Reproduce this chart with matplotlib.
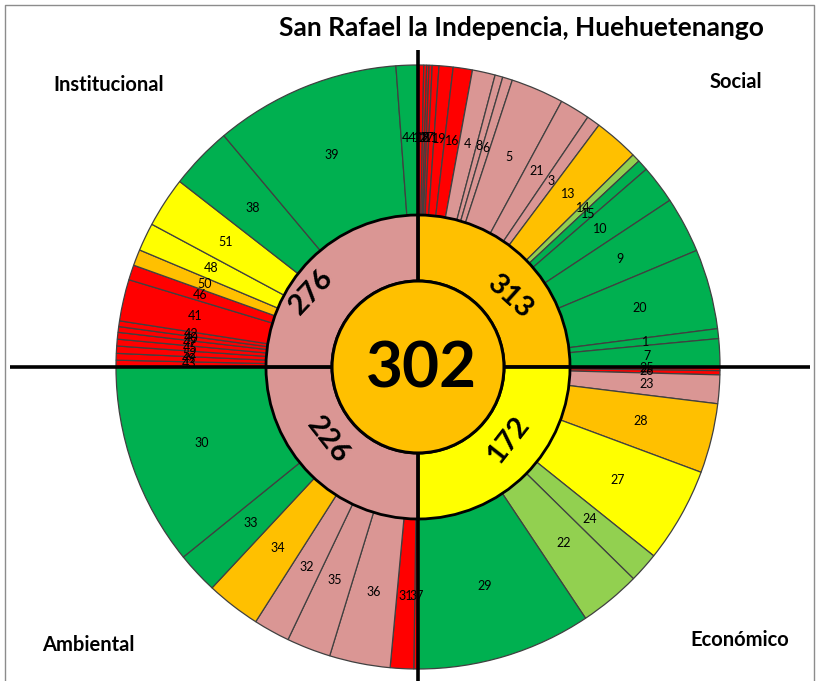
import numpy as np
import matplotlib.pyplot as plt
from matplotlib.patches import Circle

plt.rcParams['font.family'] = ['Lato', 'DejaVu Sans']

# colores de semaforo
VERDE = '#00B050'
VERDE_CLARO = '#92D050'
AMARILLO = '#FFFF00'
NARANJA = '#FFC000'
ROJO = '#FF0000'
ROSA = '#DA9694'
paleta = {'V': VERDE, 'VC': VERDE_CLARO, 'A': AMARILLO, 'N': NARANJA, 'R': ROJO, 'P': ROSA}

titulo = 'San Rafael la Indepencia, Huehuetenango'
dimensiones = ['Social', 'Económico', 'Ambiental', 'Institucional']
totales = [313, 172, 226, 276]
colores_dim = [NARANJA, AMARILLO, ROSA, ROSA]
indice_general = 302

# indicadores por dimension (en orden horario desde las 12)
social_ids = ['12', '18', '2', '17', '11', '19', '16', '4', '8', '6', '5', '21', '3',
              '13', '14', '15', '10', '9', '20', '1', '7']
social_pesos = [1.1, 0.55, 0.45, 0.6, 1.3, 2.7, 3.7, 4.4, 1.5, 1.9, 10.2, 5.8, 2.6,
                8.6, 1.6, 2.1, 7.4, 10.8, 15.4, 1.9, 5.4]
social_cat = ['R', 'R', 'R', 'R', 'R', 'R', 'R', 'P', 'P', 'P', 'P', 'P', 'P',
              'N', 'VC', 'V', 'V', 'V', 'V', 'V', 'V']

econ_ids = ['25', '26', '23', '28', '27', '24', '22', '29']
econ_pesos = [0.7, 0.8, 5.5, 13.4, 18.3, 5.8, 11.8, 33.7]
econ_cat = ['R', 'R', 'P', 'N', 'A', 'VC', 'VC', 'V']

amb_ids = ['37', '31', '36', '35', '32', '34', '33', '30']
amb_pesos = [0.8, 4.5, 11.7, 8.5, 7.0, 10.5, 8.0, 39.0]
amb_cat = ['R', 'R', 'P', 'P', 'P', 'N', 'V', 'V']

inst_ids = ['43', '49', '52', '45', '47', '40', '42', '41', '46', '50', '48', '51',
            '38', '39', '44']
inst_pesos = [1.3, 1.3, 1.4, 1.3, 1.3, 1.1, 1.1, 8.0, 2.9, 3.1, 5.4, 9.7,
              12.1, 35.8, 4.2]
inst_cat = ['R', 'R', 'R', 'R', 'R', 'R', 'R', 'R', 'R', 'N', 'A', 'A',
            'V', 'V', 'V']

grupos = [(social_ids, social_pesos, social_cat),
          (econ_ids, econ_pesos, econ_cat),
          (amb_ids, amb_pesos, amb_cat),
          (inst_ids, inst_pesos, inst_cat)]

W, H = 818, 681
cx, cy = 418, H - 367
R_ext, R_med, R_int = 302, 152, 86

fig = plt.figure(figsize=(W / 100, H / 100), dpi=100)
ax = fig.add_axes([0, 0, 1, 1])

# cada dimension ocupa un cuarto del anillo
ids, anchos, colores = [], [], []
for g_ids, g_pesos, g_cat in grupos:
    p = np.array(g_pesos, dtype=float)
    anchos.extend(p / p.sum() * 90)
    ids.extend(g_ids)
    colores.extend(paleta[c] for c in g_cat)

ax.pie(anchos, colors=colores, radius=R_ext, center=(cx, cy), startangle=90,
       counterclock=False,
       wedgeprops=dict(width=R_ext - R_med, edgecolor='#404040', linewidth=0.9))

ax.pie([1, 1, 1, 1], colors=colores_dim, radius=R_med, center=(cx, cy), startangle=90,
       counterclock=False,
       wedgeprops=dict(width=R_med - R_int, edgecolor='black', linewidth=2))

# etiquetas de indicadores
fin = np.cumsum(anchos)
medio = fin - np.array(anchos) / 2
r_lab = 229
for t, txt in zip(medio, ids):
    a = np.radians(t)
    ax.text(cx + r_lab * np.sin(a), cy + r_lab * np.cos(a), txt,
            ha='center', va='center', fontsize=9)

# ejes de cuadrantes
ax.plot([cx, cx], [H - 50, -5], color='black', lw=2.6, solid_capstyle='butt')
ax.plot([10, 810], [cy, cy], color='black', lw=2.6, solid_capstyle='butt')

ax.add_patch(Circle((cx, cy), R_int, facecolor=NARANJA, edgecolor='black', lw=2.2, zorder=5))
ax.text(cx + 3, cy - 2, str(indice_general), ha='center', va='center', fontsize=46,
        fontweight='bold', zorder=6)

# posicion (angulo, radio) y giro de los totales de cada dimension
ang_tot = [53, 129, 231, 305]
rad_tot = [116, 116, 116, 130]
giro_tot = [-42, 52, -52, 47]
for val, t, r, rot in zip(totales, ang_tot, rad_tot, giro_tot):
    a = np.radians(t)
    ax.text(cx + r * np.sin(a), cy + r * np.cos(a), str(val),
            ha='center', va='center', fontsize=21, fontweight='bold',
            rotation=rot, rotation_mode='anchor', zorder=6)

ax.text(521, H - 28, titulo, ha='center', va='center', fontsize=19, fontweight='bold')
pos_dim = [(736, H - 82), (740, H - 640), (88, H - 645), (109, H - 85)]
for nombre, (x, y) in zip(dimensiones, pos_dim):
    ax.text(x, y, nombre, ha='center', va='center', fontsize=14.5, fontweight='bold')

# marco
ax.plot([5, 5, 814, 814], [-5, H - 5, H - 5, -5], color='#8c8c8c', lw=1)

ax.set_xlim(0, W)
ax.set_ylim(0, H)
ax.set_aspect('equal')
ax.axis('off')

plt.savefig('out.png', dpi=100)
plt.close()
